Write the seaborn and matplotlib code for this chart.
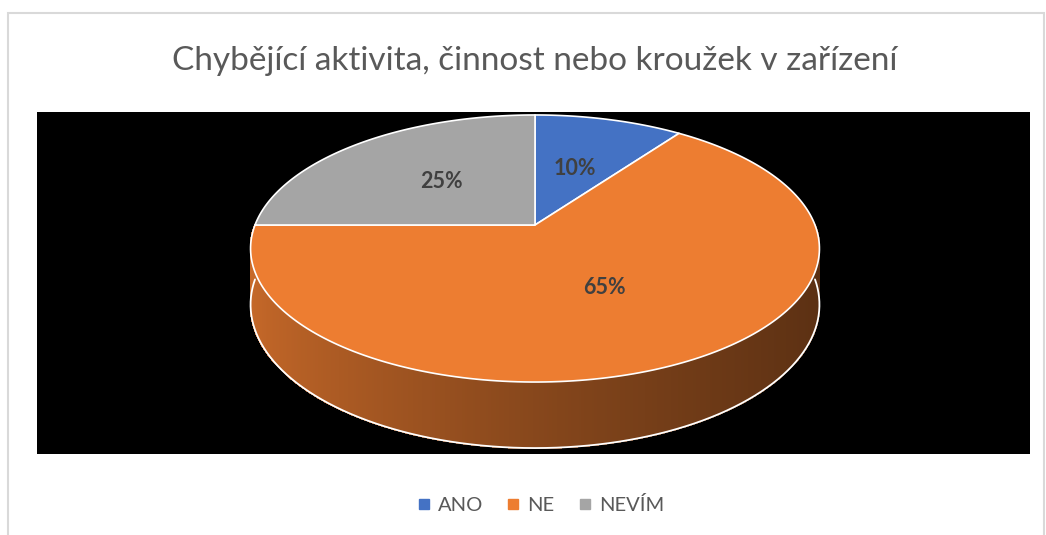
import numpy as np
import seaborn as sns
from matplotlib import pyplot as plt
from matplotlib.patches import Polygon, Rectangle
from matplotlib.lines import Line2D

CATEGORIES = ['ANO', 'NE', 'NEVÍM']
SHARES = [10, 65, 25]
LABELS = ['10%', '65%', '25%']
TITLE = 'Chybějící aktivita, činnost nebo kroužek v zařízení'

PALETTE = sns.color_palette(['#4472C4', '#ED7D31', '#A5A5A5'])

# pie geometry in pixels (3D look like the office chart)
CX, CY = 535, 225
A, B, K = 280, 129.4, 0.176
DEPTH = 54.4

sns.set_theme(style='white')
plt.rcParams['font.family'] = ['Lato', 'DejaVu Sans']


def project(phi, r=1.0, drop=0.0):
    # phi measured clockwise from the far side of the pie
    x = r * np.sin(phi)
    y = r * np.cos(phi)
    s = 1.0 / (1.0 + K * y)
    return CX + A * x * s, CY - B * y * s + drop * s


def shade(x):
    # darker to the right, lighter to the left
    return 0.57 - 0.23 * x + 0.04 * x ** 2


fig = plt.figure(figsize=(10.46, 5.35), dpi=100)
ax = fig.add_axes([0, 0, 1, 1])
ax.set_xlim(0, 1046)
ax.set_ylim(535, 0)
ax.axis('off')

# outer chart frame and black plot area
ax.add_patch(Rectangle((8, 13), 1036, 540, facecolor='white', edgecolor='#D9D9D9', lw=1.5, zorder=0))
ax.add_patch(Rectangle((37, 112), 993, 342, facecolor='black', edgecolor='none', zorder=1))

fractions = np.array(SHARES, dtype=float) / sum(SHARES)
bounds = np.concatenate([[0], np.cumsum(fractions)]) * 2 * np.pi

# side wall (front half only is visible)
phis = np.linspace(np.pi / 2, 3 * np.pi / 2, 401)
for p0, p1 in zip(phis[:-1], phis[1:]):
    pm = 0.5 * (p0 + p1)
    idx = np.searchsorted(bounds, pm) - 1
    base = np.array(PALETTE[idx])
    col = np.clip(base * shade(np.sin(pm)), 0, 1)
    t0, t1 = project(p0), project(p1)
    b0, b1 = project(p0, drop=DEPTH), project(p1, drop=DEPTH)
    ax.add_patch(Polygon([t0, t1, b1, b0], closed=True, facecolor=col,
                         edgecolor=col, lw=0.8, antialiased=False, zorder=2))
bx, by = project(phis, drop=DEPTH)
ax.plot(bx, by, color='white', lw=1.3, zorder=3)

# top face wedges
for i, cat in enumerate(CATEGORIES):
    arc = np.linspace(bounds[i], bounds[i + 1], 200)
    px, py = project(arc)
    pts = [(CX, CY)] + list(zip(px, py))
    ax.add_patch(Polygon(pts, closed=True, facecolor=PALETTE[i],
                         edgecolor='white', lw=1.2, joinstyle='round', zorder=4))
    mid = 0.5 * (bounds[i] + bounds[i + 1])
    lx, ly = project(mid, r=0.5)
    ax.text(lx, ly, LABELS[i], ha='center', va='center', fontsize=15.5,
            fontweight='bold', color='#404040', zorder=5)

ax.text(535, 61, TITLE, ha='center', va='center', fontsize=24,
        color='#595959', zorder=5)

handles = [Line2D([0], [0], marker='s', linestyle='none', markersize=6.5,
                  markerfacecolor=PALETTE[i], markeredgecolor=PALETTE[i])
           for i in range(len(CATEGORIES))]
ax.legend(handles, CATEGORIES, loc='center', bbox_to_anchor=(538, 505),
          bbox_transform=ax.transData, ncol=3, frameon=False, fontsize=14.5,
          handletextpad=0.1, handlelength=1.2, columnspacing=0.9,
          labelcolor='#595959')

fig.savefig('out.png', dpi=100)
